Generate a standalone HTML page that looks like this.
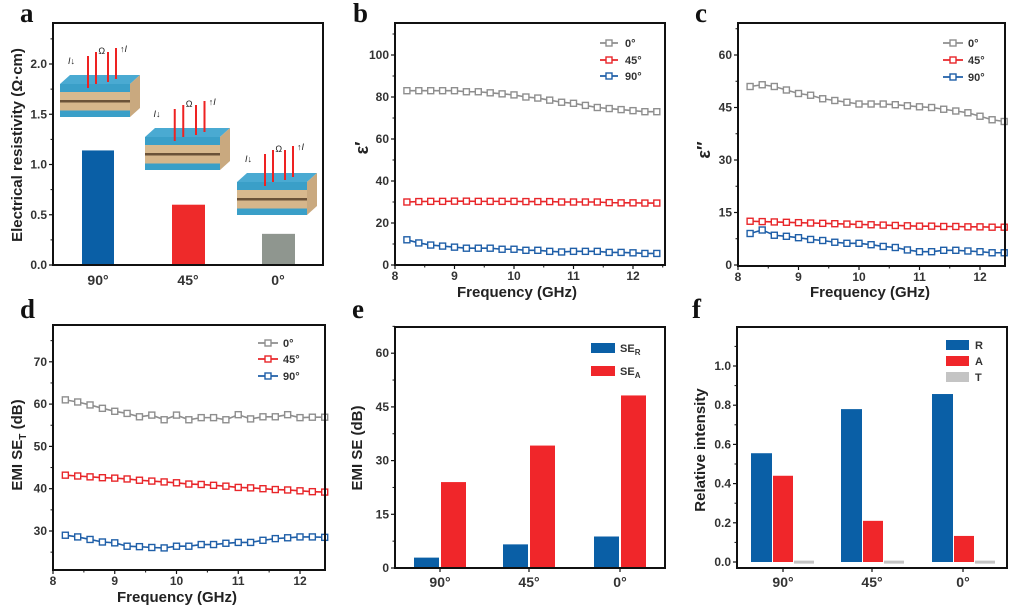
<!DOCTYPE html>
<html><head><meta charset="utf-8"><style>
html,body{margin:0;padding:0;background:#fff;}
svg text{font-family:"Liberation Sans",sans-serif;}
</style></head><body>
<svg id="s" xmlns="http://www.w3.org/2000/svg" width="1020" height="609" viewBox="0 0 1020 609"></svg>
<script>
const S=document.getElementById('s');let H='';
const GR='#8e8e8e',RD='#e8262a',BL='#1f5fa8';
function frame(x0,x1,y0,y1){H+=`<rect x="${x0}" y="${y0}" width="${x1-x0}" height="${y1-y0}" fill="none" stroke="#111" stroke-width="2"/>`;}
function yt(x0,y,lab){H+=`<line x1="${x0-4}" x2="${x0}" y1="${y}" y2="${y}" stroke="#111" stroke-width="1.2"/>`;if(lab!==null)H+=`<text x="${x0-6}" y="${y+4}" font-size="12" font-weight="bold" fill="#333" text-anchor="end">${lab}</text>`;}
function ym(x0,y){H+=`<line x1="${x0-2.5}" x2="${x0}" y1="${y}" y2="${y}" stroke="#111" stroke-width="1"/>`;}
function xt(x,y1,lab,ly){H+=`<line x1="${x}" x2="${x}" y1="${y1}" y2="${y1+4}" stroke="#111" stroke-width="1.2"/>`;if(lab!==null)H+=`<text x="${x}" y="${ly}" font-size="12" font-weight="bold" fill="#333" text-anchor="middle">${lab}</text>`;}
function xm(x,y1,xmax){if(x<xmax)H+=`<line x1="${x}" x2="${x}" y1="${y1}" y2="${y1+2.5}" stroke="#111" stroke-width="1"/>`;}
function letter(t,x,y){H+=`<text x="${x}" y="${y}" font-size="27" font-weight="bold" fill="#111" style="font-family:'Liberation Serif',serif">${t}</text>`;}
function ytitle(t,x,y,fs){H+=`<text transform="translate(${x},${y}) rotate(-90)" font-size="${fs||15}" font-weight="bold" fill="#222" text-anchor="middle">${t}</text>`;}
function xtitle(t,x,y){H+=`<text x="${x}" y="${y}" font-size="15" font-weight="bold" fill="#222" text-anchor="middle">${t}</text>`;}
function series(data,X,Y,c){let p=data.map((v,i)=>[X(8.2+0.2*i),Y(v)]);H+=`<polyline points="${p.map(q=>q.join(',')).join(' ')}" fill="none" stroke="${c}" stroke-width="1.6"/>`;p.forEach(q=>{H+=`<rect x="${q[0]-3}" y="${q[1]-3}" width="6" height="6" fill="#fff" stroke="${c}" stroke-width="1.4"/>`;});}
function leg(x1,x2,tx,ys){[[GR,'0°'],[RD,'45°'],[BL,'90°']].forEach((a,i)=>{let y=ys[i],m=(x1+x2)/2;H+=`<line x1="${x1}" x2="${x2}" y1="${y}" y2="${y}" stroke="${a[0]}" stroke-width="1.8"/><rect x="${m-3}" y="${y-3}" width="6" height="6" fill="#fff" stroke="${a[0]}" stroke-width="1.4"/><text x="${tx}" y="${y+4}" font-size="11" font-weight="bold" fill="#333">${a[1]}</text>`;});}
function block(x,y,w){
 let f=w-10;
 H+=`<g transform="translate(${x},${y})">
 <polygon points="0,12 ${f},12 ${w},3 10,3" fill="#4aaad2"/>
 <rect x="0" y="12" width="${f}" height="8" fill="#3a9fc8"/>
 <polygon points="${f},12 ${w},3 ${w},36 ${f},45" fill="#c9a97f"/>
 <rect x="0" y="20" width="${f}" height="8" fill="#d8b98e"/>
 <rect x="0" y="28" width="${f}" height="2.5" fill="#6b5238"/>
 <rect x="0" y="30.5" width="${f}" height="8" fill="#d6b68b"/>
 <rect x="0" y="38.5" width="${f}" height="6.5" fill="#3a9fc8"/>
 <line x1="${w*0.35}" y1="-16" x2="${w*0.35}" y2="16" stroke="#e22" stroke-width="2"/>
 <line x1="${w*0.45}" y1="-20" x2="${w*0.45}" y2="12" stroke="#e22" stroke-width="2"/>
 <line x1="${w*0.6}" y1="-20" x2="${w*0.6}" y2="10" stroke="#e22" stroke-width="2"/>
 <line x1="${w*0.7}" y1="-24" x2="${w*0.7}" y2="7" stroke="#e22" stroke-width="2"/>
 <text x="${w*0.1}" y="-8" font-size="9" font-style="italic" fill="#222">I↓</text>
 <text x="${w*0.48}" y="-18" font-size="9" fill="#222">Ω</text>
 <text x="${w*0.75}" y="-20" font-size="9" font-style="italic" fill="#222">↑I</text></g>`;}

// a
letter('a',20,22);
let A=v=>265-v*100.5;
block(60,72,80);block(145,125,85);block(237,170,80);
H+=`<rect x="82" y="${A(1.14)}" width="32" height="${265-A(1.14)}" fill="#0a5fa6"/>`;
H+=`<rect x="172" y="${A(0.6)}" width="33" height="${265-A(0.6)}" fill="#ee2a2a"/>`;
H+=`<rect x="262" y="${A(0.31)}" width="33" height="${265-A(0.31)}" fill="#8f968f"/>`;
frame(53,323,23,265);
for(let v=0;v<=2.01;v+=0.5)yt(53,A(v),v.toFixed(1));
for(let v=0.25;v<2.4;v+=0.5)ym(53,A(v));
[[98,'90°'],[188,'45°'],[278,'0°']].forEach(a=>H+=`<text x="${a[0]}" y="285" font-size="14" font-weight="bold" fill="#333" text-anchor="middle">${a[1]}</text>`);
ytitle('Electrical resistivity (Ω·cm)',22,145,15);

// b
letter('b',353,22);
{let X=f=>395+(f-8)*59.5,Y=v=>265-v*2.1;
series([83,83,83,83,83,82.5,82.5,82,81.5,81,80,79.5,78.5,77.5,77,76,75,74.5,74,73.5,73,73],X,Y,GR);
series([30,30.2,30.3,30.3,30.4,30.4,30.3,30.3,30.3,30.3,30.2,30.2,30.2,30,30,30,30,29.7,29.6,29.6,29.5,29.5],X,Y,RD);
series([12,10.5,9.5,9,8.5,8,8,8,7.5,7.5,7,7,6.5,6.2,6.5,6.5,6.5,6,6,5.8,5.5,5.5],X,Y,BL);
frame(395,665,23,265);
for(let v=0;v<=100;v+=20)yt(395,Y(v),v);for(let v=10;v<=110;v+=20)ym(395,Y(v));
for(let f=8;f<=12;f++)xt(X(f),265,f,280);for(let f=8.5;f<=12.5;f++)xm(X(f),265,665);
leg(600,618,625,[43,60,76]);ytitle('ε′',368,148,18);xtitle('Frequency (GHz)',517,297);}

// c
letter('c',695,22);
{let X=f=>738+(f-8)*60.5,Y=v=>265-v*3.5;
series([51,51.5,51,50,49,48.5,47.5,47,46.5,46,46,46,45.8,45.5,45.2,45,44.5,44,43.5,42.5,41.5,41],X,Y,GR);
series([12.5,12.4,12.3,12.2,12.1,12,11.9,11.8,11.7,11.6,11.5,11.4,11.3,11.2,11.1,11.1,11,11,10.9,10.9,10.8,10.8],X,Y,RD);
series([9,10,8.5,8.2,7.8,7.3,7,6.5,6.2,6.2,5.8,5.3,5,4.3,3.8,3.8,4.2,4.2,4,3.8,3.5,3.5],X,Y,BL);
frame(738,1005,23,266);
for(let v=0;v<=60;v+=15)yt(738,Y(v),v);for(let v=7.5;v<=67.5;v+=15)ym(738,Y(v));
for(let f=8;f<=12;f++)xt(X(f),266,f,281);for(let f=8.5;f<=12.5;f++)xm(X(f),266,1005);
leg(943,963,968,[43,60,77]);ytitle('ε″',710,150,18);xtitle('Frequency (GHz)',870,297);}

// d
letter('d',20,318);
{let X=f=>53+(f-8)*61.75,Y=v=>531-(v-30)*4.23;
series([61,60.5,59.8,59,58.3,57.8,57,57.4,56.3,57.4,56.3,56.8,56.8,56.3,57.5,56.5,57,57,57.5,56.8,56.9,56.9],X,Y,GR);
series([43.2,43,42.8,42.6,42.5,42.3,42,41.8,41.6,41.4,41.1,41,40.8,40.6,40.3,40.2,40,39.8,39.7,39.5,39.3,39.2],X,Y,RD);
series([29,28.6,28,27.4,27.2,26.4,26.3,26.1,26,26.4,26.4,26.8,26.8,27.1,27.3,27.3,27.8,28.2,28.4,28.6,28.6,28.5],X,Y,BL);
frame(53,325,325,570);
for(let v=30;v<=70;v+=10)yt(53,Y(v),v);for(let v=25;v<=75;v+=10)ym(53,Y(v));
for(let f=8;f<=12;f++)xt(X(f),570,f,585);for(let f=8.5;f<=12.5;f++)xm(X(f),570,325);
leg(258,278,283,[343,359,376]);
H+=`<text transform="translate(22,445) rotate(-90)" font-size="15" font-weight="bold" fill="#222" text-anchor="middle">EMI SE<tspan font-size="10" dy="4">T</tspan><tspan dy="-4"> (dB)</tspan></text>`;
xtitle('Frequency (GHz)',177,602);}

// e
letter('e',352,318);
{let Y=v=>568-v*3.58;
[[414,2.9,24],[503,6.6,34.2],[594,8.8,48.2]].forEach(b=>{H+=`<rect x="${b[0]}" y="${Y(b[1])}" width="25" height="${568-Y(b[1])}" fill="#0a5fa6"/><rect x="${b[0]+27}" y="${Y(b[2])}" width="25" height="${568-Y(b[2])}" fill="#f0262a"/>`;});
frame(395,665,327,568);
for(let v=0;v<=60;v+=15)yt(395,Y(v),v);for(let v=7.5;v<=67.5;v+=15)ym(395,Y(v));
[[440,'90°'],[529,'45°'],[620,'0°']].forEach(a=>{xt(a[0],568,null,0);H+=`<text x="${a[0]}" y="587" font-size="14" font-weight="bold" fill="#333" text-anchor="middle">${a[1]}</text>`;});
H+=`<rect x="591" y="343" width="24" height="10" fill="#0a5fa6"/><rect x="591" y="366" width="24" height="10" fill="#f0262a"/>`;
H+=`<text x="620" y="352" font-size="11" font-weight="bold" fill="#333">SE<tspan font-size="8" dy="3">R</tspan></text><text x="620" y="375" font-size="11" font-weight="bold" fill="#333">SE<tspan font-size="8" dy="3">A</tspan></text>`;
ytitle('EMI SE (dB)',362,448,15);}

// f
letter('f',692,318);
{let Y=v=>562-v*196;
[[751,0.555,0.44],[841,0.78,0.21],[932,0.857,0.133]].forEach(b=>{H+=`<rect x="${b[0]}" y="${Y(b[1])}" width="21" height="${562-Y(b[1])}" fill="#0a5fa6"/><rect x="${b[0]+22}" y="${Y(b[2])}" width="20" height="${562-Y(b[2])}" fill="#f0262a"/><rect x="${b[0]+43}" y="${Y(0.007)}" width="20" height="3" fill="#c4c4c4"/>`;});
frame(737,1007,327,568);
for(let v=0;v<=1.01;v+=0.2)yt(737,Y(v),v.toFixed(1));for(let v=0.1;v<=1.15;v+=0.2)ym(737,Y(v));
[[783,'90°'],[872,'45°'],[963,'0°']].forEach(a=>{xt(a[0],568,null,0);H+=`<text x="${a[0]}" y="587" font-size="14" font-weight="bold" fill="#333" text-anchor="middle">${a[1]}</text>`;});
[['#0a5fa6','R',340],['#f0262a','A',356],['#c4c4c4','T',372]].forEach(l=>H+=`<rect x="946" y="${l[2]}" width="23" height="10" fill="${l[0]}"/><text x="975" y="${l[2]+9}" font-size="11" font-weight="bold" fill="#333">${l[1]}</text>`);
ytitle('Relative intensity',705,450,15);}
S.innerHTML=H;
</script>
</body></html>
